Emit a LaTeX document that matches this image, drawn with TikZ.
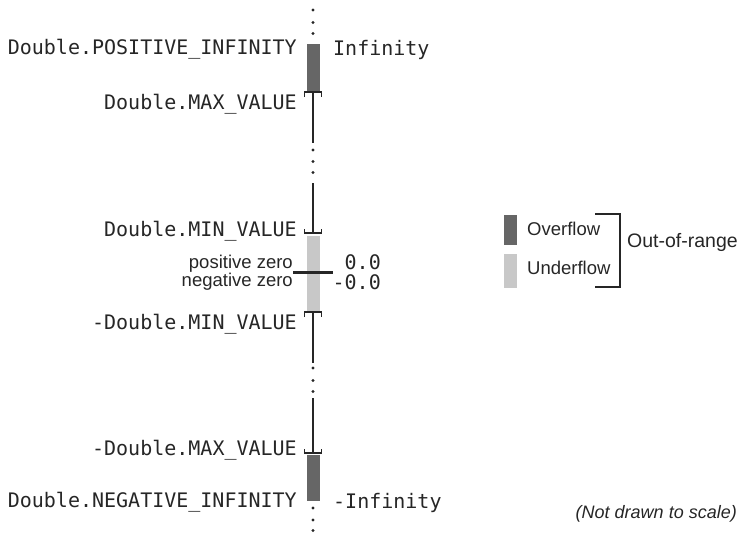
\documentclass[tikz,border=0pt]{standalone}
\usepackage{fontspec}
\setmainfont{Liberation Sans}
\setmonofont{DejaVu Sans Mono}
\usetikzlibrary{positioning, calc}
\definecolor{overflowgray}{HTML}{666666}
\definecolor{underflowgray}{HTML}{C8C8C8}

\begin{document}
\begin{tikzpicture}[x=1pt,y=-1pt]
      \tikzset{code/.style={font=\ttfamily\fontsize{20}{22}\selectfont,
          inner sep=0pt,
          text=black!85},
        side/.style={font=\fontsize{18.5}{20}\selectfont,
          inner sep=0pt,
          text=black!85},
        axis/.style={line width=2pt, black!85},
        bracket/.style={line width=1.4pt, black!85},
        dot/.style={fill=black!85}
      }
      \useasboundingbox (0,0) rectangle (739,533);

      % bars
      \fill [overflowgray] (306.5,44) rectangle (319.5,91);
      \fill [underflowgray] (306.5,236) rectangle (319.5,311);
      \fill [overflowgray] (306.5,455) rectangle (319.5,501);

      % axis pieces
      \coordinate (maxtop) at (313,92);
      \coordinate (maxend) at (313,143);
      \coordinate (minstart) at (313,183);
      \coordinate (mintop) at (313,233);
      \coordinate (nmintop) at (313,312);
      \coordinate (nminend) at (313,363);
      \coordinate (nmaxstart) at (313,398);
      \coordinate (nmaxtop) at (313,453);
      \draw [axis] (maxtop)--(maxend);
      \draw [axis] (minstart)--(mintop);
      \draw [axis] (nmintop)--(nminend);
      \draw [axis] (nmaxstart)--(nmaxtop);

      % brackets
      \draw [bracket] ($(maxtop)+(-8.5,5)$) |- ($(maxtop)+(8.5,0)$) -- ++(0,5);
      \draw [bracket] ($(mintop)+(-8.5,-4)$) |- ($(mintop)+(8.5,0)$) -- ++(0,-4);
      \draw [bracket] ($(nmintop)+(-8.5,5)$) |- ($(nmintop)+(8.5,0)$) -- ++(0,5);
      \draw [bracket] ($(nmaxtop)+(-8.5,-4)$) |- ($(nmaxtop)+(8.5,0)$) -- ++(0,-4);

      % dots
      \foreach \y in {10,22.5,33.5,150,161.5,172.5,368,380.5,391.5,508,520,530.5}
        \fill [dot] (313,\y) circle (1.6);

      % zero line
      \coordinate (zeroleft) at (293,272.5);
      \coordinate (zeroright) at (333,272.5);
      \draw [line width=2.5pt, black!85] (zeroleft)--(zeroright);

      % labels
      \node [code, anchor=base east] (posinf) at (297,54) {Double.POSITIVE\_INFINITY};
      \node [code, anchor=base west] (inf) at (333,55) {Infinity};
      \node [code, anchor=base east] (maxval) at (297,109) {Double.MAX\_VALUE};
      \node [code, anchor=base east] (minval) at (297,236) {Double.MIN\_VALUE};
      \node [side, anchor=base east] (poszero) at (zeroleft |- 0,268) {positive zero};
      \node [side, anchor=base east] (negzero) at (zeroleft |- 0,286) {negative zero};
      \node [code, anchor=base east] (zero) at (381,269.5) {0.0};
      \node [code, anchor=base east] (negzeroval) at (381,289) {-0.0};
      \node [code, anchor=base east] (nminval) at (297,329) {-Double.MIN\_VALUE};
      \node [code, anchor=base east] (nmaxval) at (297,455) {-Double.MAX\_VALUE};
      \node [code, anchor=base east] (neginf) at (297,507) {Double.NEGATIVE\_INFINITY};
      \node [code, anchor=base west] (ninf) at (333,508) {-Infinity};
      \node [side, anchor=base east, font=\itshape\fontsize{18}{20}\selectfont] (scale) at (737,518) {(Not drawn to scale)};

      % legend
      \fill [overflowgray] (503.5,215) rectangle (516.5,245);
      \fill [underflowgray] (503.5,254) rectangle (516.5,288);
      \node [side, anchor=west] (over) at (527,229) {Overflow};
      \node [side, anchor=west] (under) at (527,268) {Underflow};
      \coordinate (brtop) at (595,214);
      \coordinate (brbot) at (595,287);
      \draw [line width=2pt, black!85] (brtop) -| (619.5,250.5) |- (brbot);
      \node [side, anchor=west, font=\fontsize{19.5}{21}\selectfont] (range) at (627,242) {Out-of-range};

    \end{tikzpicture}
\end{document}
